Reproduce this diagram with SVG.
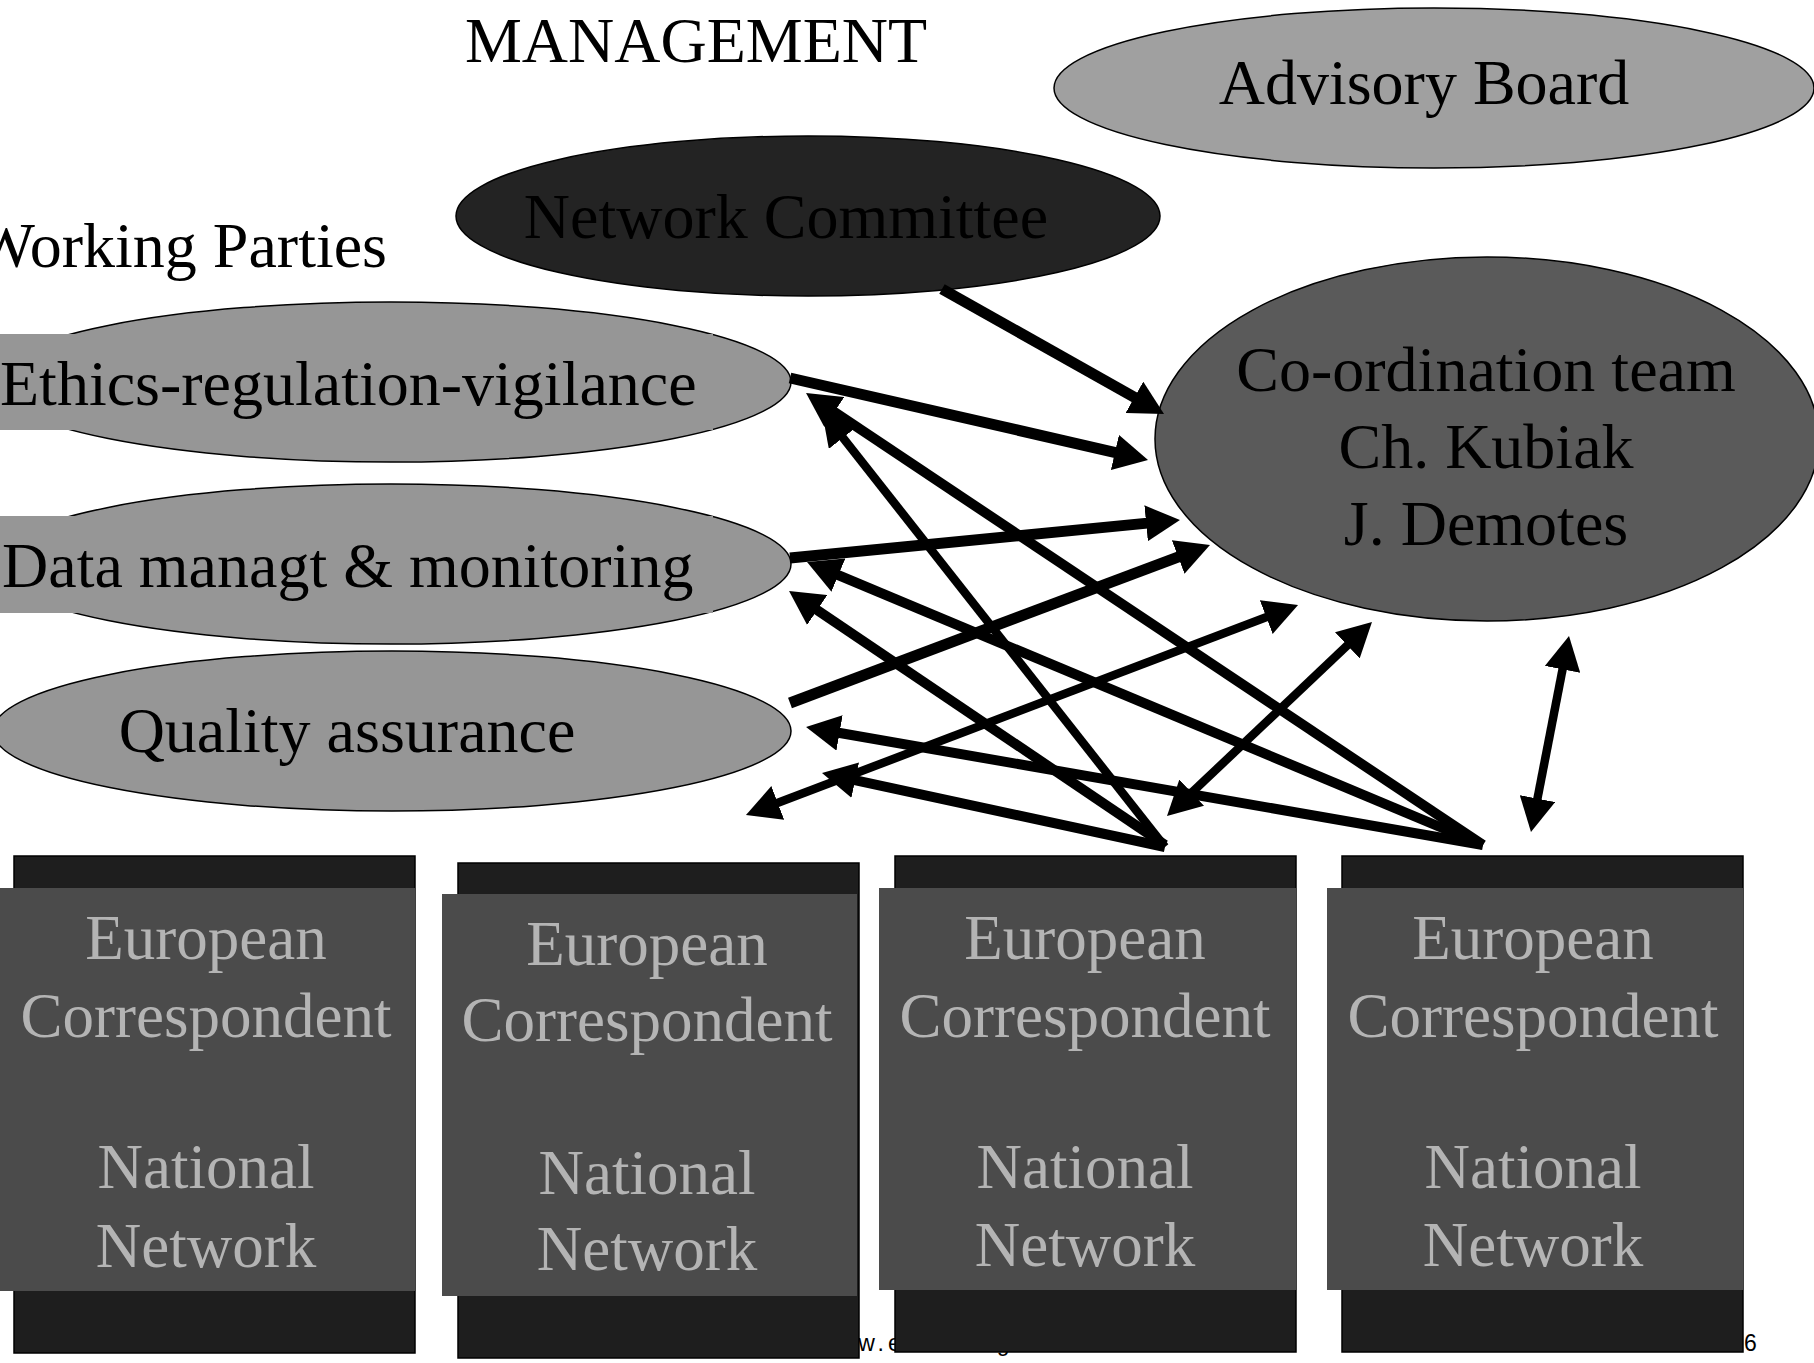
<svg xmlns="http://www.w3.org/2000/svg" width="1814" height="1363" viewBox="0 0 1814 1363">
<style>
.t{font-family:"Liberation Serif","Times New Roman",serif;font-size:64px;fill:#000}
.bt{font-family:"Liberation Serif","Times New Roman",serif;font-size:63px;fill:#b4b4b4;text-anchor:middle}
.ft{font-family:"Liberation Sans",Arial,sans-serif;font-size:23px;fill:#000}
.wp{fill:#969696;stroke:#000;stroke-width:1.5}
.dk{fill:#1e1e1e;stroke:#000;stroke-width:1.5}
.gr{fill:#4b4b4b}
.c line{stroke:#000;fill:none}
.w11{stroke-width:11}
.w10{stroke-width:10}
.w8{stroke-width:8.5}
</style>
<defs>
<marker id="ah" viewBox="0 0 34 36" refX="4" refY="18" markerWidth="34" markerHeight="36" markerUnits="userSpaceOnUse" orient="auto-start-reverse">
<path d="M0,0 L34,18 L0,36 Z" fill="#000"/>
</marker>
</defs>
<rect width="1814" height="1363" fill="#fff"/>

<g id="footer">
<text class="ft" x="817" y="1351" letter-spacing="4">www.ecrin.org</text>
<text class="ft" x="1744" y="1351">6</text>
</g>

<g id="title-management"><text class="t" x="696" y="62" text-anchor="middle">MANAGEMENT</text></g>
<g id="title-working-parties"><text class="t" x="387" y="267" text-anchor="end">Working Parties</text></g>

<g id="advisory-board">
<ellipse cx="1434" cy="88" rx="380" ry="80" fill="#a0a0a0" stroke="#000" stroke-width="1.5"/>
<text class="t" x="1424" y="104" text-anchor="middle">Advisory Board</text>
</g>

<g id="network-committee">
<ellipse cx="808" cy="216" rx="352" ry="80" fill="#232323" stroke="#000" stroke-width="1.5"/>
<text class="t" x="786" y="238" text-anchor="middle">Network Committee</text>
</g>

<g id="coordination-team">
<ellipse cx="1487" cy="439" rx="332" ry="182" fill="#5a5a5a" stroke="#000" stroke-width="1.5"/>
<text class="t" x="1486" y="391" text-anchor="middle">Co-ordination team</text>
<text class="t" x="1486" y="468" text-anchor="middle">Ch. Kubiak</text>
<text class="t" x="1486" y="545" text-anchor="middle">J. Demotes</text>
</g>

<g id="ethics">
<ellipse class="wp" cx="391" cy="382" rx="400" ry="80"/>
<rect x="0" y="334" width="713" height="96" fill="#969696"/>
<text class="t" x="0" y="405">Ethics-regulation-vigilance</text>
</g>

<g id="data-management">
<ellipse class="wp" cx="391" cy="564" rx="400" ry="80"/>
<rect x="0" y="516" width="713" height="97" fill="#969696"/>
<text class="t" x="2" y="587">Data managt &amp; monitoring</text>
</g>

<g id="quality-assurance">
<ellipse class="wp" cx="392" cy="731" rx="399" ry="80"/>
<text class="t" x="347" y="752" text-anchor="middle">Quality assurance</text>
</g>

<g id="correspondent-1">
<rect class="dk" x="14" y="856" width="401" height="497"/>
<rect class="gr" x="0" y="888" width="415" height="403"/>
<text class="bt" x="206" y="959">European</text>
<text class="bt" x="206" y="1037">Correspondent</text>
<text class="bt" x="206" y="1188">National</text>
<text class="bt" x="206" y="1267">Network</text>
</g>

<g id="correspondent-2">
<rect class="dk" x="458" y="863" width="401" height="495"/>
<rect class="gr" x="442" y="894" width="415" height="402"/>
<text class="bt" x="647" y="965">European</text>
<text class="bt" x="647" y="1041">Correspondent</text>
<text class="bt" x="647" y="1194">National</text>
<text class="bt" x="647" y="1270">Network</text>
</g>

<g id="correspondent-3">
<rect class="dk" x="895" y="856" width="401" height="496"/>
<rect class="gr" x="879" y="888" width="417" height="402"/>
<text class="bt" x="1085" y="959">European</text>
<text class="bt" x="1085" y="1037">Correspondent</text>
<text class="bt" x="1085" y="1188">National</text>
<text class="bt" x="1085" y="1266">Network</text>
</g>

<g id="correspondent-4">
<rect class="dk" x="1342" y="856" width="401" height="496"/>
<rect class="gr" x="1327" y="888" width="416" height="402"/>
<text class="bt" x="1533" y="959">European</text>
<text class="bt" x="1533" y="1037">Correspondent</text>
<text class="bt" x="1533" y="1188">National</text>
<text class="bt" x="1533" y="1266">Network</text>
</g>

<g id="connectors" class="c">
<line class="w11" x1="942" y1="289" x2="1137.9" y2="399.3" marker-end="url(#ah)"/>
<line class="w11" x1="790" y1="378" x2="1118.8" y2="453.3" marker-end="url(#ah)"/>
<line class="w11" x1="790" y1="558" x2="1150.1" y2="522.9" marker-end="url(#ah)"/>
<line class="w11" x1="790" y1="703" x2="1181.9" y2="555.6" marker-end="url(#ah)"/>
<line class="w8" x1="1165" y1="847" x2="840.5" y2="434.6" marker-end="url(#ah)"/>
<line class="w10" x1="1483" y1="845" x2="831" y2="409.7" marker-end="url(#ah)"/>
<line class="w10" x1="1165" y1="845" x2="813.9" y2="607.8" marker-end="url(#ah)"/>
<line class="w10" x1="1483" y1="845" x2="834.7" y2="573.6" marker-end="url(#ah)"/>
<line class="w10" x1="1483" y1="845" x2="835.6" y2="732.2" marker-end="url(#ah)"/>
<line class="w10" x1="1165" y1="847" x2="851.3" y2="779.3" marker-end="url(#ah)"/>
<line class="w8" x1="774" y1="804.3" x2="1270" y2="615.7" marker-start="url(#ah)" marker-end="url(#ah)"/>
<line class="w8" x1="1188.8" y1="795.4" x2="1350.2" y2="642.6" marker-start="url(#ah)" marker-end="url(#ah)"/>
<line class="w8" x1="1536.7" y1="802.5" x2="1563.3" y2="665.5" marker-start="url(#ah)" marker-end="url(#ah)"/>
</g>
</svg>
